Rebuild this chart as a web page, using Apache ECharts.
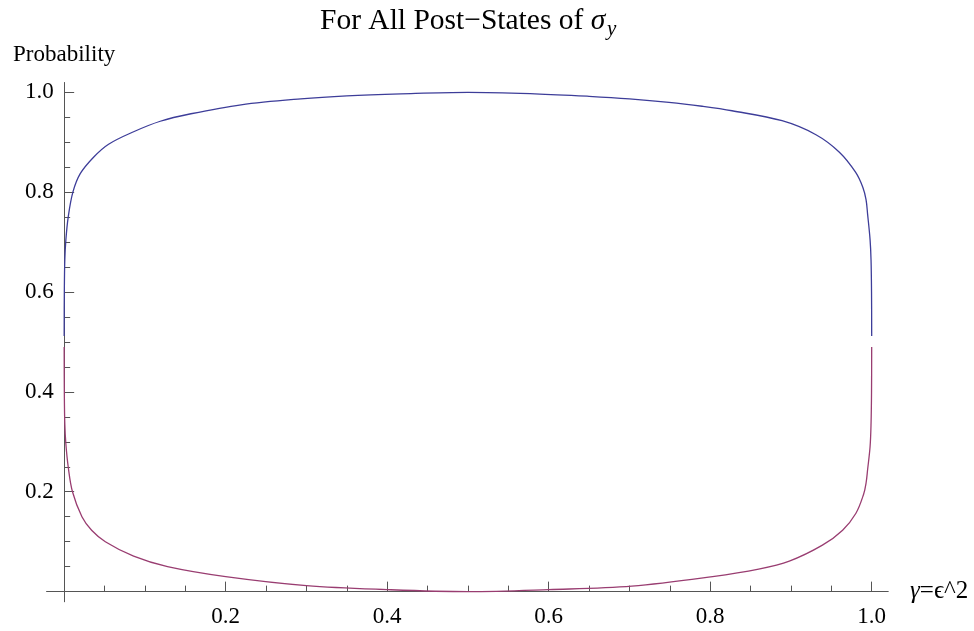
<!DOCTYPE html>
<html>
<head>
<meta charset="utf-8">
<script src="https://cdn.jsdelivr.net/npm/echarts@6/dist/echarts.min.js"></script>
<style>
  html, body { margin: 0; padding: 0; background: #ffffff; }
  #chart { width: 974px; height: 631px; }
</style>
</head>
<body>
<div id="chart"></div>
<script>
// ---- data ----
const gammaBlue = [0, 0.0002, 0.0008, 0.0021, 0.005, 0.0108, 0.0199, 0.0364, 0.055, 0.086, 0.119, 0.157, 0.219, 0.293, 0.35, 0.417, 0.5, 0.583, 0.65, 0.70, 0.749, 0.79, 0.827, 0.889, 0.931, 0.96, 0.98, 0.989, 0.993, 0.995, 0.998, 0.9992, 0.9998, 1.0];
const probBlue  = [0.512, 0.60, 0.664, 0.704, 0.750, 0.800, 0.837, 0.870, 0.896, 0.921, 0.942, 0.957, 0.975, 0.987, 0.993, 0.997, 1.0, 0.997, 0.992, 0.987, 0.980, 0.972, 0.963, 0.943, 0.915, 0.880, 0.840, 0.810, 0.785, 0.755, 0.705, 0.664, 0.60, 0.512];

const gammaPurple = [0, 0.0002, 0.0008, 0.0021, 0.005, 0.0103, 0.022, 0.034, 0.051, 0.086, 0.128, 0.2, 0.30, 0.4, 0.5, 0.6, 0.703, 0.803, 0.86, 0.898, 0.939, 0.964, 0.9805, 0.99, 0.993, 0.995, 0.998, 0.9992, 0.9998, 1.0];
const probPurple  = [0.490, 0.40, 0.336, 0.296, 0.250, 0.200, 0.150, 0.123, 0.100, 0.071, 0.050, 0.030, 0.012, 0.004, 0.0, 0.004, 0.011, 0.030, 0.045, 0.061, 0.093, 0.123, 0.157, 0.195, 0.217, 0.245, 0.290, 0.336, 0.40, 0.490];

const xMajorTicks = [0.2, 0.4, 0.6, 0.8, 1.0];
const xMinorTicks = [0.05, 0.1, 0.15, 0.25, 0.3, 0.35, 0.45, 0.5, 0.55, 0.65, 0.7, 0.75, 0.85, 0.9, 0.95];
const yMajorTicks = [0.2, 0.4, 0.6, 0.8, 1.0];
const yMinorTicks = [0.05, 0.1, 0.15, 0.25, 0.3, 0.35, 0.45, 0.5, 0.55, 0.65, 0.7, 0.75, 0.85, 0.9, 0.95];

const titleMain = 'For All Post\u2212States of ';
const titleSigma = '\u03C3';
const titleSub = 'y';
const yName = 'Probability';
const xName = '\u03B3=\u03F5^2';

// ---- chart ----
const FONT = '"Liberation Serif", "DejaVu Serif", serif';
const AXIS_COLOR = '#555555';
const xRange = [-0.0215, 1.0202];
const yRange = [-0.0202, 1.0192];

const pairs = (xs, ys) => xs.map((x, i) => [x, ys[i]]);
const fmt = v => Number(v).toFixed(1);

function xAxisDef(ticks, len, labels) {
  return {
    type: 'value', min: xRange[0], max: xRange[1], position: 'bottom',
    axisLine: { show: true, onZero: true, lineStyle: { color: AXIS_COLOR, width: 1 } },
    axisTick: { show: true, inside: true, length: len, customValues: ticks, lineStyle: { color: AXIS_COLOR, width: 1 } },
    axisLabel: labels ? { show: true, customValues: ticks, formatter: fmt, margin: 4, color: '#000', fontSize: 23, fontFamily: FONT } : { show: false },
    splitLine: { show: false }
  };
}
function yAxisDef(ticks, len, labels) {
  return {
    type: 'value', min: yRange[0], max: yRange[1], position: 'left',
    axisLine: { show: true, onZero: true, lineStyle: { color: AXIS_COLOR, width: 1 } },
    axisTick: { show: true, inside: true, length: len, customValues: ticks, lineStyle: { color: AXIS_COLOR, width: 1 } },
    axisLabel: labels ? { show: true, customValues: ticks, formatter: fmt, margin: -7, color: '#000', fontSize: 23, fontFamily: FONT } : { show: false },
    splitLine: { show: false }
  };
}

const xA0 = xAxisDef(xMajorTicks, 10, true);
xA0.name = '{g|\u03B3}{n|' + xName.slice(1) + '}';
xA0.nameLocation = 'end';
xA0.nameGap = 22;
xA0.nameTextStyle = { color: '#000', fontSize: 25, fontFamily: FONT, rich: {
  g: { fontSize: 25, fontFamily: FONT, fontStyle: 'italic', color: '#000' },
  n: { fontSize: 25, fontFamily: FONT, color: '#000' } } };
const xA1 = xAxisDef(xMinorTicks, 6, false);

const yA0 = yAxisDef(yMajorTicks, 10, true);
yA0.name = yName;
yA0.nameLocation = 'end';
yA0.nameGap = 16;
yA0.nameTextStyle = { color: '#000', fontSize: 23, fontFamily: FONT, align: 'center' };
const yA1 = yAxisDef(yMinorTicks, 6, false);

const chart = echarts.init(document.getElementById('chart'), null, { renderer: 'canvas' });
chart.setOption({
  animation: false,
  backgroundColor: '#ffffff',
  title: [
    {
      text: '{a|' + titleMain + '}{s|' + titleSigma + '}',
      left: 315, top: 1,
      textStyle: {
        fontWeight: 'normal',
        rich: {
          a: { fontSize: 29.5, fontFamily: FONT, fontWeight: 'normal', color: '#000' },
          s: { fontSize: 29.5, fontFamily: FONT, fontWeight: 'normal', fontStyle: 'italic', color: '#000' }
        }
      }
    },
    {
      text: titleSub,
      left: 602, top: 14,
      textStyle: { fontSize: 21, fontFamily: FONT, fontStyle: 'italic', fontWeight: 'normal', color: '#000' }
    }
  ],
  grid: { left: 46.8, top: 82.7, width: 841.2, height: 519, containLabel: false },
  xAxis: [xA0, xA1],
  yAxis: [yA0, yA1],
  series: [
    {
      type: 'line', xAxisIndex: 0, yAxisIndex: 0,
      data: pairs(gammaBlue, probBlue),
      showSymbol: false, smooth: 0.35,
      lineStyle: { color: '#3d3d99', width: 1.3 },
      itemStyle: { color: '#3d3d99' }
    },
    {
      type: 'line', xAxisIndex: 0, yAxisIndex: 0,
      data: pairs(gammaPurple, probPurple),
      showSymbol: false, smooth: 0.35,
      lineStyle: { color: '#993d71', width: 1.3 },
      itemStyle: { color: '#993d71' }
    }
  ]
});
</script>
</body>
</html>
